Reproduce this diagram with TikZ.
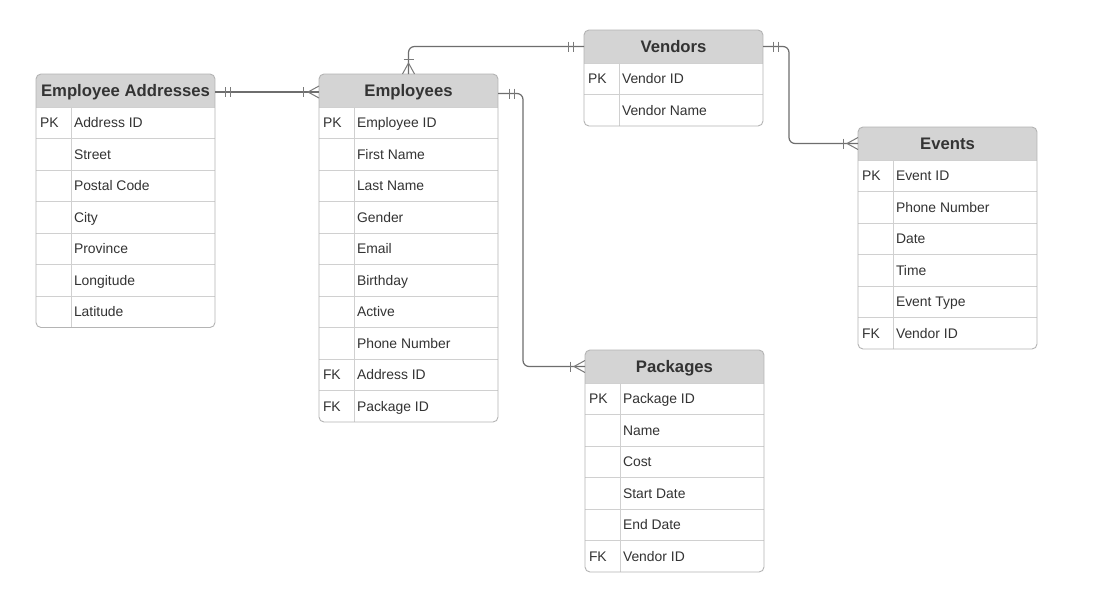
\documentclass[tikz,border=0pt]{standalone}
\usepackage{fontspec}
\setmainfont{Liberation Sans}
\usetikzlibrary{calc}
\definecolor{hdrfill}{HTML}{D4D4D4}
\definecolor{framec}{HTML}{B4B4B4}
\definecolor{rowc}{HTML}{D0D0D0}
\definecolor{txtc}{HTML}{333333}
\definecolor{connc}{HTML}{6E6E6E}
\definecolor{cardc}{HTML}{7A7A7A}
\tikzset{
 hdr/.style={inner sep=0pt, outer sep=0pt, minimum width=179pt, minimum height=33pt,
   text height=11.8pt, text depth=0pt, font=\fontsize{16.7}{18}\selectfont\bfseries, text=txtc},
 keytext/.style={inner sep=0pt, outer sep=0pt, font=\fontsize{13.9}{16}\selectfont, text=txtc},
 fieldtext/.style={keytext},
 rowline/.style={draw=rowc, line width=0.9pt},
 framebox/.style={draw=framec, line width=0.9pt, rounded corners=5pt},
 conn/.style={draw=connc, line width=1.2pt},
 cardmark/.style={draw=cardc, line width=1pt},
}
\newcommand{\erdtable}[6]{%
  \pgfmathsetmacro\tabh{33+#4*31.5}
  \begin{scope}
    \clip[rounded corners=5pt] (#2,#3) rectangle ++(179,\tabh);
    \fill[hdrfill] (#2,#3) rectangle ++(179,33);
  \end{scope}
  \node[hdr, anchor=north west] (#1) at (#2,#3) {#5};
  \foreach [count=\i] \k/\f in {#6} {
     \pgfmathsetmacro\ry{#3+33+(\i-1)*31.5}
     \draw[rowline] (#2,\ry) -- ++(179,0);
     \node[keytext, anchor=base west] (#1-k\i) at (#2+4,\ry+20.8) {\k};
     \node[fieldtext, anchor=base west] (#1-f\i) at (#2+38,\ry+20.8) {\f};
  }
  \draw[rowline] (#2+35,#3+33) -- ++(0,#4*31.5);
  \draw[framebox] (#2,#3) rectangle ++(179,\tabh);
}
\begin{document}
\begin{tikzpicture}[x=1pt,y=-1pt]
\useasboundingbox[fill=white] (0,0) rectangle (1101,605);

\erdtable{ea}{36}{74}{7}{Employee Addresses}{PK/Address ID,/Street,/Postal Code,/City,/Province,/Longitude,/Latitude}
\erdtable{emp}{319}{74}{10}{Employees}{PK/Employee ID,/First Name,/Last Name,/Gender,/Email,/Birthday,/Active,/Phone Number,FK/Address ID,FK/Package ID}
\erdtable{ven}{584}{30}{2}{Vendors}{PK/Vendor ID,/Vendor Name}
\erdtable{ev}{858}{127}{6}{Events}{PK/Event ID,/Phone Number,/Date,/Time,/Event Type,FK/Vendor ID}
\erdtable{pkg}{585}{350}{6}{Packages}{PK/Package ID,/Name,/Cost,/Start Date,/End Date,FK/Vendor ID}

% Employee Addresses -- Employees
\coordinate (c1a) at ([yshift=-1.5pt]ea.east);
\coordinate (c1b) at ([yshift=-1.5pt]emp.west);
\draw[conn] (c1a) -- (c1b);
\draw[cardmark] ($(c1a)+(10,-5)$) -- ($(c1a)+(10,5)$) ($(c1a)+(15,-5)$) -- ($(c1a)+(15,5)$);
\draw[cardmark] ($(c1b)+(-16,-5)$) -- ($(c1b)+(-16,5)$);
\draw[cardmark] ($(c1b)+(0,-6)$) -- ($(c1b)+(-11,0)$) -- ($(c1b)+(0,6)$);

% Vendors -- Employees
\draw[conn, rounded corners=6pt] (ven.west) -| (emp.north);
\draw[cardmark] ($(ven.west)+(-16,-5)$) -- ($(ven.west)+(-16,5)$) ($(ven.west)+(-11,-5)$) -- ($(ven.west)+(-11,5)$);
\draw[cardmark] ($(emp.north)+(-5,-15)$) -- ($(emp.north)+(5,-15)$);
\draw[cardmark] ($(emp.north)+(-6,0)$) -- ($(emp.north)+(0,-11)$) -- ($(emp.north)+(6,0)$);

% Vendors -- Events
\draw[conn, rounded corners=6pt] (ven.east) -- ++(26,0) |- (ev.west);
\draw[cardmark] ($(ven.east)+(10,-5)$) -- ($(ven.east)+(10,5)$) ($(ven.east)+(15,-5)$) -- ($(ven.east)+(15,5)$);
\draw[cardmark] ($(ev.west)+(-15,-5)$) -- ($(ev.west)+(-15,5)$);
\draw[cardmark] ($(ev.west)+(0,-6)$) -- ($(ev.west)+(-11,0)$) -- ($(ev.west)+(0,6)$);

% Employees -- Packages
\coordinate (c4a) at ([yshift=-3pt]emp.east);
\draw[conn, rounded corners=6pt] (c4a) -- ++(25,0) |- (pkg.west);
\draw[cardmark] ($(c4a)+(11,-5)$) -- ($(c4a)+(11,5)$) ($(c4a)+(16,-5)$) -- ($(c4a)+(16,5)$);
\draw[cardmark] ($(pkg.west)+(-15,-5)$) -- ($(pkg.west)+(-15,5)$);
\draw[cardmark] ($(pkg.west)+(0,-6)$) -- ($(pkg.west)+(-11,0)$) -- ($(pkg.west)+(0,6)$);
\end{tikzpicture}
\end{document}
